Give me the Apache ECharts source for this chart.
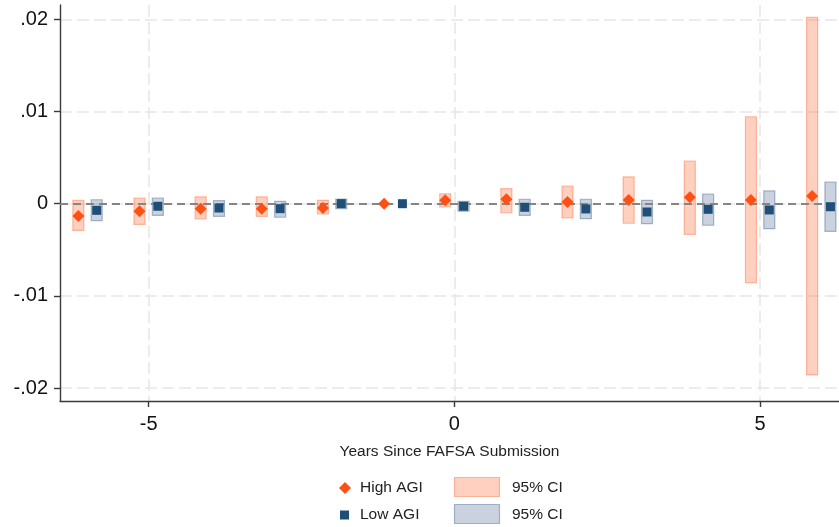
<!DOCTYPE html>
<html>
<head>
<meta charset="utf-8">
<script src="https://cdn.jsdelivr.net/npm/echarts@6/dist/echarts.min.js"></script>
<style>
  html, body { margin: 0; padding: 0; background: #ffffff; }
  #chart { width: 839px; height: 527px; }
</style>
</head>
<body>
<div id="chart"></div>
<script>
// Event-study estimates by year relative to FAFSA submission (year -1 is the reference year)
const years = [-6, -5, -4, -3, -2, -1, 0, 1, 2, 3, 4, 5, 6];

const highEst = [-0.00133, -0.00082, -0.00054, -0.00054, -0.00047, 0, 0.00037, 0.00048, 0.00018, 0.00040, 0.00069, 0.00040, 0.00083];
const highLo  = [-0.00290, -0.00225, -0.00166, -0.00137, -0.00112, null, -0.00036, -0.00098, -0.00155, -0.00212, -0.00332, -0.00856, -0.01857];
const highHi  = [0.00035, 0.00062, 0.00073, 0.00073, 0.00037, null, 0.00108, 0.00163, 0.00192, 0.00290, 0.00463, 0.00943, 0.02020];

const lowEst = [-0.00072, -0.00028, -0.00047, -0.00054, 0.00001, 0, -0.00028, -0.00039, -0.00057, -0.00090, -0.00061, -0.00068, -0.00033];
const lowLo  = [-0.00184, -0.00126, -0.00137, -0.00147, -0.00054, null, -0.00082, -0.00126, -0.00163, -0.00217, -0.00234, -0.00271, -0.00300];
const lowHi  = [0.00043, 0.00062, 0.00033, 0.00026, 0.00051, null, 0.00026, 0.00048, 0.00048, 0.00037, 0.00105, 0.00138, 0.00235];

const xTicks = [-5, 0, 5];
const yTicks = [-0.02, -0.01, 0, 0.01, 0.02];

const seriesNames = ['High AGI', 'Low AGI'];
const ciLabel = '95% CI';
const xTitle = 'Years Since FAFSA Submission';

// horizontal dodge so the two groups sit side by side within each year
const dodge = 0.15;

const FONT = '"Liberation Sans", Arial, sans-serif';
const HIGH_COLOR = '#ff5014';
const LOW_COLOR = '#1f4e79';
const HIGH_CI_FILL = 'rgba(255, 110, 60, 0.32)';
const HIGH_CI_EDGE = 'rgba(250, 110, 60, 0.45)';
const LOW_CI_FILL = 'rgba(60, 95, 135, 0.28)';
const LOW_CI_EDGE = 'rgba(60, 95, 135, 0.42)';

function ciData(lo, hi, shift) {
  const out = [];
  years.forEach((y, i) => {
    if (lo[i] !== null && hi[i] !== null) out.push([y + shift, lo[i], hi[i]]);
  });
  return out;
}

function pointData(est, shift) {
  return years.map((y, i) => [y + shift, est[i]]);
}

function ciRenderer(fill, edge) {
  return function (params, api) {
    const x = api.value(0);
    const top = api.coord([x, api.value(2)]);
    const bot = api.coord([x, api.value(1)]);
    const w = 11;
    return {
      type: 'rect',
      shape: { x: top[0] - w / 2, y: top[1], width: w, height: bot[1] - top[1] },
      style: { fill: fill, stroke: edge, lineWidth: 1.2 }
    };
  };
}

function yFmt(v) {
  if (v === 0) return '0';
  const s = String(Math.abs(v)).replace(/^0/, '');
  return (v < 0 ? '-' : '') + s;
}

const chart = echarts.init(document.getElementById('chart'), null, { renderer: 'canvas' });

const gridLine = { show: true, lineStyle: { color: '#e6e6e6', width: 1.5, type: [12, 5] } };

chart.setOption({
  backgroundColor: '#ffffff',
  animation: false,
  textStyle: { fontFamily: FONT },
  grid: { left: 60, right: 0, top: 5, bottom: 126, containLabel: false },
  xAxis: {
    type: 'value',
    min: -6.45,
    max: 6.29,
    name: xTitle,
    nameLocation: 'middle',
    nameGap: 43,
    nameTextStyle: { fontFamily: FONT, fontSize: 15.5, color: '#222' },
    axisLine: { show: true, onZero: false, lineStyle: { color: '#3a3a3a', width: 1.4 } },
    axisTick: { show: true, customValues: xTicks, length: 6, lineStyle: { color: '#3a3a3a', width: 1.4 } },
    axisLabel: { customValues: xTicks, fontFamily: FONT, fontSize: 20, color: '#111', margin: 13 },
    splitLine: gridLine
  },
  yAxis: {
    type: 'value',
    min: -0.0214,
    max: 0.02155,
    axisLine: { show: true, onZero: false, lineStyle: { color: '#3a3a3a', width: 1.4 } },
    axisTick: { show: true, customValues: yTicks, length: 6, lineStyle: { color: '#3a3a3a', width: 1.4 } },
    axisLabel: { customValues: yTicks, fontFamily: FONT, fontSize: 20, color: '#111', margin: 12, formatter: yFmt },
    splitLine: gridLine
  },
  series: [
    {
      name: seriesNames[0] + ' ' + ciLabel,
      type: 'custom',
      z: 2,
      renderItem: ciRenderer(HIGH_CI_FILL, HIGH_CI_EDGE),
      encode: { x: 0, y: [1, 2] },
      data: ciData(highLo, highHi, -dodge),
      markLine: {
        silent: true,
        symbol: 'none',
        label: { show: false },
        lineStyle: { color: '#858585', width: 2, type: [8, 5] },
        data: [{ yAxis: 0 }]
      }
    },
    {
      name: seriesNames[1] + ' ' + ciLabel,
      type: 'custom',
      z: 2,
      renderItem: ciRenderer(LOW_CI_FILL, LOW_CI_EDGE),
      encode: { x: 0, y: [1, 2] },
      data: ciData(lowLo, lowHi, dodge)
    },
    {
      name: seriesNames[0],
      type: 'scatter',
      z: 5,
      symbol: 'diamond',
      symbolSize: [12, 12],
      itemStyle: { color: HIGH_COLOR, opacity: 1 },
      data: pointData(highEst, -dodge)
    },
    {
      name: seriesNames[1],
      type: 'scatter',
      z: 5,
      symbol: 'rect',
      symbolSize: 9,
      itemStyle: { color: LOW_COLOR, opacity: 1 },
      data: pointData(lowEst, dodge)
    }
  ],
  graphic: [
    // legend, two rows: marker + label, then CI swatch + label
    { type: 'polygon', shape: { points: [[345, 482], [351, 488], [345, 494], [339, 488]] }, style: { fill: HIGH_COLOR } },
    { type: 'text', left: 360, top: 480, style: { text: seriesNames[0], font: '15.5px ' + FONT, fill: '#222' } },
    { type: 'rect', shape: { x: 454.5, y: 477.5, width: 45, height: 19 }, style: { fill: HIGH_CI_FILL, stroke: HIGH_CI_EDGE, lineWidth: 1.2 } },
    { type: 'text', left: 512, top: 480, style: { text: ciLabel, font: '15.5px ' + FONT, fill: '#222' } },

    { type: 'rect', shape: { x: 340, y: 510.5, width: 9, height: 9 }, style: { fill: LOW_COLOR } },
    { type: 'text', left: 360, top: 507, style: { text: seriesNames[1], font: '15.5px ' + FONT, fill: '#222' } },
    { type: 'rect', shape: { x: 454.5, y: 504.5, width: 45, height: 19 }, style: { fill: LOW_CI_FILL, stroke: LOW_CI_EDGE, lineWidth: 1.2 } },
    { type: 'text', left: 512, top: 507, style: { text: ciLabel, font: '15.5px ' + FONT, fill: '#222' } }
  ]
});
</script>
</body>
</html>
